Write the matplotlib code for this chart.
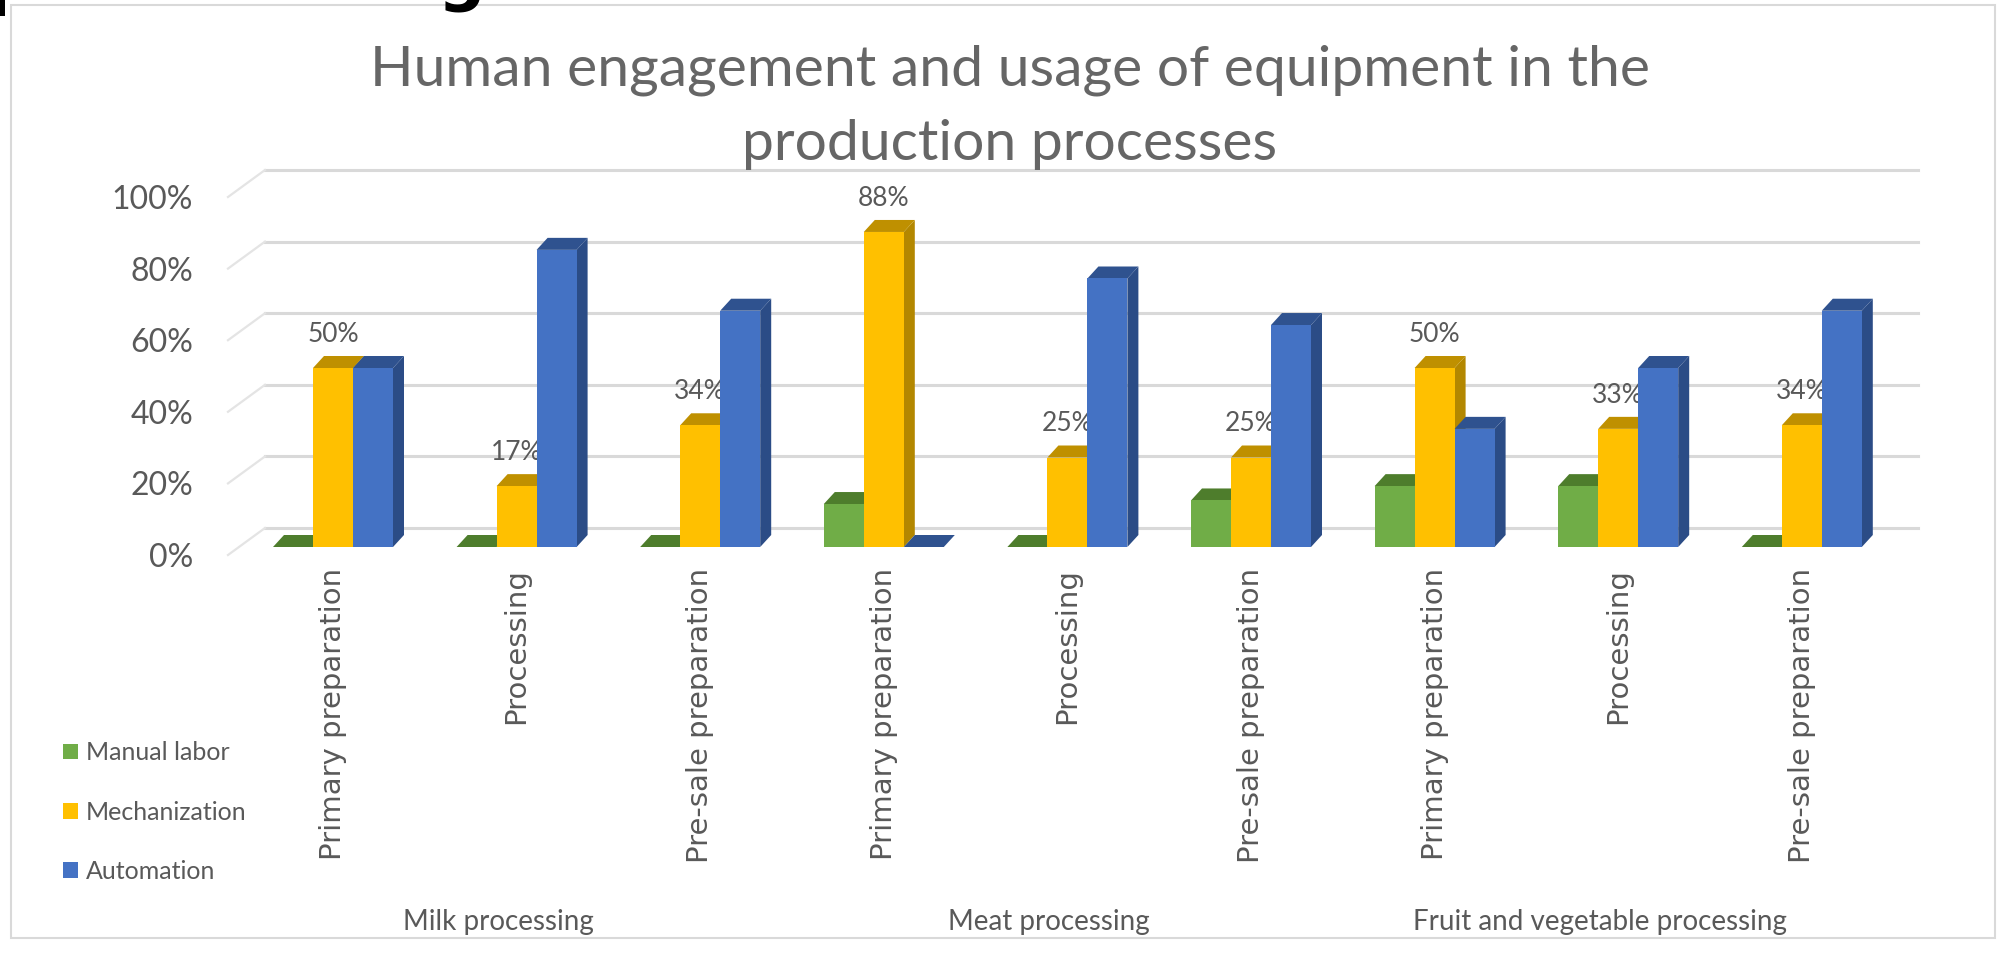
import matplotlib
matplotlib.use('Agg')
import matplotlib.pyplot as plt
from matplotlib.patches import Patch, Rectangle

plt.rcParams['font.family'] = ['Lato', 'DejaVu Sans']

# data
groups = ['Milk processing', 'Meat processing', 'Fruit and vegetable processing']
stages = ['Primary preparation', 'Processing', 'Pre-sale preparation']
series_names = ['Manual labor', 'Mechanization', 'Automation']
manual = [0.00, 0.00, 0.00, 0.12, 0.00, 0.13, 0.17, 0.17, 0.00]
mechanization = [0.50, 0.17, 0.34, 0.88, 0.25, 0.25, 0.50, 0.33, 0.34]
automation = [0.50, 0.83, 0.66, 0.00, 0.75, 0.62, 0.33, 0.50, 0.66]
yticks = [0.0, 0.2, 0.4, 0.6, 0.8, 1.0]

# face colours: front, top, side
colors = [
    ('#70AD47', '#4E7D2C', '#507E2E'),
    ('#FFC000', '#BF9000', '#B38700'),
    ('#4472C4', '#2F528F', '#2B4C86'),
]
text_gray = '#595959'
grid_gray = '#D9D9D9'

# figure geometry (pixels) and the pseudo-3D layout
W, H = 2001, 956
X0, XSTEP = 333, 183.6     # pixel x of first category centre, spacing
Y0, YSCALE = 547, 358      # pixel y of bar base, pixels per 100%
BAR_W = 40 / XSTEP
DX, DY = 11 / XSTEP, 12 / YSCALE       # bar depth offset
WALL_DY = (Y0 - 528) / YSCALE           # back wall is higher than bar base
FRONT_DY = (Y0 - 555) / YSCALE          # front edge is lower
WALL_X0, WALL_X1 = (265 - X0) / XSTEP, (1918 - X0) / XSTEP
FRONT_X0 = (228 - X0) / XSTEP

fig = plt.figure(figsize=(W / 100, H / 100), dpi=100)
ax = fig.add_axes([0, 0, 1, 1])
ax.set_xlim(-X0 / XSTEP, (W - X0) / XSTEP)
ax.set_ylim((Y0 - H) / YSCALE, Y0 / YSCALE)
ax.axis('off')

# back wall gridlines, floor diagonals and y tick labels
for v in yticks:
    ax.plot([WALL_X0, WALL_X1], [v + WALL_DY] * 2, color=grid_gray, lw=2.2, zorder=1)
    ax.plot([FRONT_X0, WALL_X0], [v + FRONT_DY, v + WALL_DY], color='#E4E4E4', lw=1.6, zorder=1)
    ax.text((193 - X0) / XSTEP, v + FRONT_DY - 12 / YSCALE, f'{v:.0%}',
            ha='right', va='baseline', fontsize=23, color=text_gray)

# data labels for mechanization (sit behind the bars)
for i, v in enumerate(mechanization):
    ax.text(i, v + 26 / YSCALE, f'{round(v * 100)}%', ha='center', va='baseline',
            fontsize=19, color=text_gray, zorder=2)

# bars, left to right so each front hides the previous side face
z = 3
for i in range(len(mechanization)):
    for s, vals in enumerate([manual, mechanization, automation]):
        v = vals[i]
        x = i + (s - 1) * BAR_W
        front, top, side = colors[s]
        xl, xr = x - BAR_W / 2, x + BAR_W / 2
        ax.fill([xr, xr + DX, xr + DX, xr], [0, DY, v + DY, v], color=side, lw=0, zorder=z)
        ax.fill([xl, xl + DX, xr + DX, xr], [v, v + DY, v + DY, v], color=top, lw=0, zorder=z)
        ax.bar(x, v, width=BAR_W, color=front, lw=0, zorder=z)
        z += 1

# category labels
for i in range(len(mechanization)):
    ax.text(i, (Y0 - 568) / YSCALE, stages[i % 3], rotation=90, ha='center', va='top',
            fontsize=21, color=text_gray, family=['DejaVu Sans'])
for g, name in enumerate(groups):
    ax.text(g * 3 + 1 - 0.1, (Y0 - 930) / YSCALE, name, ha='center', va='baseline',
            fontsize=20, color=text_gray)

# title
fig.text(1010 / W, 1 - 85 / H, 'Human engagement and usage of equipment in the',
         ha='center', va='baseline', fontsize=41, color='#666666')
fig.text(1010 / W, 1 - 160 / H, 'production processes',
         ha='center', va='baseline', fontsize=41, color='#666666')

# legend
handles = [Patch(facecolor=c[0], edgecolor='none') for c in colors]
fig.legend(handles, series_names, loc='center left', bbox_to_anchor=(50 / W, 1 - 812 / H),
           frameon=False, fontsize=18, labelcolor=text_gray, handlelength=0.6,
           handleheight=0.6, handletextpad=0.35, labelspacing=1.45, borderpad=0)

# chart border and bits of the heading above it
fig.patches.append(Rectangle((11 / W, 1 - 938 / H), 1984 / W, 933 / H, transform=fig.transFigure,
                             fill=False, edgecolor=grid_gray, lw=1.5))
fig.patches.append(Rectangle((0, 1 - 16 / H), 5 / W, 16 / H, transform=fig.transFigure,
                             color='black', lw=0))
fig.text(462 / W, 1 + 3 / H, 'g', ha='center', va='baseline', fontsize=48,
         fontweight='bold', color='black', family='DejaVu Sans')

fig.savefig('out.png', dpi=100, facecolor='white')
